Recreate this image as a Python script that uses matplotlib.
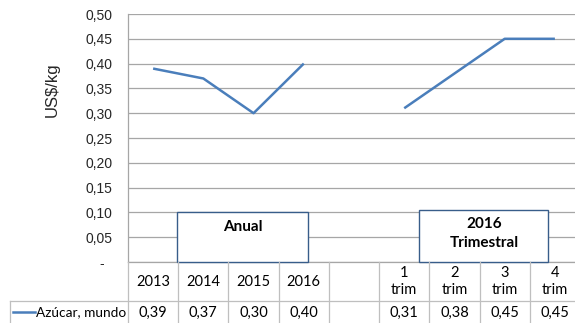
import numpy as np
import matplotlib
matplotlib.use("Agg")
import matplotlib.pyplot as plt
from matplotlib.lines import Line2D
from matplotlib.patches import Rectangle

# ── data ────────────────────────────────────────────────────────────────────
categories = ["2013", "2014", "2015", "2016", "", "1\ntrim", "2\ntrim", "3\ntrim", "4\ntrim"]
values = [0.39, 0.37, 0.30, 0.40, np.nan, 0.31, 0.38, 0.45, 0.45]
value_labels = ["0,39", "0,37", "0,30", "0,40", "", "0,31", "0,38", "0,45", "0,45"]
series_name = "Azúcar, mundo"
yticks = [0.0, 0.05, 0.10, 0.15, 0.20, 0.25, 0.30, 0.35, 0.40, 0.45, 0.50]

LINE = "#4a7ebb"
GRID = "#a6a6a6"
TABLE = "#bfbfbf"
BOX = "#385d8a"
TXT = "#262626"
TFONT = ["Lato", "DejaVu Sans"]

W, H = 575, 323
fig = plt.figure(figsize=(W / 100, H / 100), dpi=100)


def fx(px):
    return px / W


def fy(py):
    return 1 - py / H


# ── line chart ──────────────────────────────────────────────────────────────
x = np.arange(len(categories))
ax = fig.add_axes([fx(128), fy(262), fx(580 - 128), (262 - 14) / H])
ax.plot(x, values, color=LINE, lw=1.8, solid_capstyle="butt")
ax.set_xlim(-0.5, len(categories) - 0.5)
ax.set_ylim(0, 0.5)
ax.set_yticks(yticks)
ax.set_yticklabels(["-  " if v == 0 else f"{v:.2f}".replace(".", ",") for v in yticks],
                   family="Liberation Sans", fontsize=10, color=TXT)
ax.set_xticks([])
ax.tick_params(axis="y", length=0, pad=11)
ax.grid(axis="y", color=GRID, lw=0.9)
ax.set_axisbelow(True)
for s in ["top", "right"]:
    ax.spines[s].set_visible(False)
for s in ["left", "bottom"]:
    ax.spines[s].set_color(GRID)
    ax.spines[s].set_linewidth(0.9)

fig.text(fx(52), fy(90), "US$/kg", rotation=90, ha="center", va="center",
         family="Liberation Sans", fontsize=12, color=TXT)

# text boxes
ax.add_patch(Rectangle((0.48, 0.0), 2.60, 0.10, facecolor="white", edgecolor=BOX,
                       lw=1.0, zorder=5, clip_on=False))
ax.text(1.78, 0.07, "Anual", ha="center", va="center", fontsize=11,
        fontweight="bold", family=TFONT, color="black", zorder=6)
ax.add_patch(Rectangle((5.30, 0.0), 2.57, 0.104, facecolor="white", edgecolor=BOX,
                       lw=1.0, zorder=5, clip_on=False))
ax.text(6.585, 0.077, "2016", ha="center", va="center", fontsize=11,
        fontweight="bold", family=TFONT, color="black", zorder=6)
ax.text(6.585, 0.038, "Trimestral", ha="center", va="center", fontsize=11,
        fontweight="bold", family=TFONT, color="black", zorder=6)

# ── data table ──────────────────────────────────────────────────────────────
tab = fig.add_axes([fx(128), 0, fx(580 - 128), (H - 262) / H])
tab.set_xlim(-0.5, len(categories) - 0.5)
tab.set_ylim(H - 262, 0)
tab.axis("off")
row_split = 301 - 262
for k in range(len(categories) + 1):
    tab.plot([k - 0.5, k - 0.5], [0, H - 262], color=TABLE, lw=0.9, clip_on=False)
tab.plot([-0.5, len(categories) - 0.5], [row_split, row_split], color=TABLE, lw=0.9,
         clip_on=False)
for i, (c, v) in enumerate(zip(categories, value_labels)):
    tab.text(i, row_split / 2, c, ha="center", va="center", fontsize=10.5,
             family=TFONT, color="black", linespacing=1.3)
    tab.text(i, (row_split + H - 262) / 2 + 1, v, ha="center", va="center",
             fontsize=10.5, family=TFONT, color="black")

# legend cell
fig.add_artist(Line2D([fx(10), fx(128)], [fy(301), fy(301)], color=TABLE, lw=0.9))
fig.add_artist(Line2D([fx(10), fx(10)], [fy(301), 0], color=TABLE, lw=0.9))
fig.add_artist(Line2D([fx(13), fx(35)], [fy(312), fy(312)], color=LINE, lw=1.8))
fig.text(fx(36), fy(312), series_name, ha="left", va="center", fontsize=9.8,
         family=TFONT, color="black")

fig.savefig("out.png", dpi=100)
